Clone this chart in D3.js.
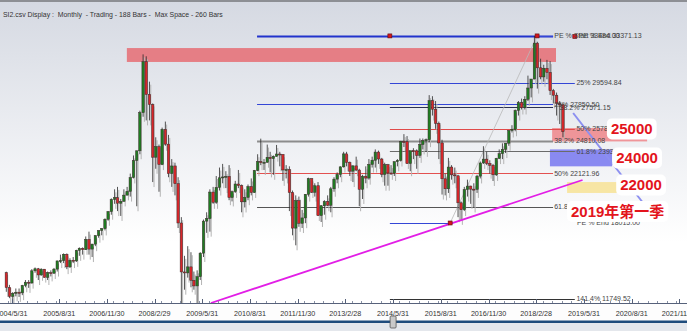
<!DOCTYPE html>
<html>
<head>
<meta charset="utf-8">
<script src="https://cdn.jsdelivr.net/npm/d3@7"></script>
<style>
body { margin: 0; background: #fff; overflow: hidden; }
svg { display: block; font-family: "Liberation Sans", Arial, sans-serif; }
</style>
</head>
<body>
<div id="chart"></div>
<script>
// monthly bars, first bar is 2004/3
const firstMonth = "2004-03";
const opens = [
  13908,12681,11942,12198,12286,12238,12850,13120,13054,14060,
  14230,13721,14196,13516,13908,13867,14201,14880,14903,15429,14386,14937,
  14876,15753,15918,15805,16661,15857,16267,16971,17392,17543,18324,18960,
  19965,20106,19652,19800,20319,20635,21773,23185,23984,27142,31352,28643,
  27813,23456,24332,22849,25755,24533,22102,22731,21261,18016,13969,13888,
  14387,13278,12811,13576,15521,18171,18379,20573,19724,20955,21753,21822,
  21873,20122,20608,21239,21108,19765,20129,21030,20537,22359,23096,23008,
  23035,23447,23338,23528,23720,23684,22398,22440,20535,17592,19864,17989,
  18434,20390,21680,20556,21094,18630,19441,19796,19482,20840,21642,22030,
  22657,23730,23020,22300,22737,22392,20803,21883,21731,22860,23206,23881,
  23306,22035,22837,22151,22134,23082,23191,24757,24742,22933,23998,23987,
  23605,24507,24823,24901,28133,27424,26250,24636,21670,20846,22640,21996,
  21914,19683,19112,20777,21067,20815,20794,21891,22977,23297,22935,22790,
  22001,23361,23741,24112,24615,25661,25765,27324,27970,27554,28246,29177,
  29919,32887,30845,30093,30808,30469,28955,28583,27889,27789
];
const highs = [
  13990,12900,12300,12600,12600,12900,13300,13300,14200,14339,
  14300,14270,14200,14000,14100,14300,14900,15400,15500,15500,15100,15200,
  15800,16000,16000,16900,17300,16300,17000,17400,17600,18400,19000,20050,
  20800,21000,20000,20800,21000,22100,23600,24000,27300,31958,31800,29700,
  27900,25100,24500,25900,26400,25300,23300,23000,21800,18500,15300,16100,
  15600,14000,14100,15600,18300,18900,20800,21000,21900,22600,22900,22300,
  22800,20700,21500,22400,21200,20800,21200,21700,22400,23700,24988,23300,
  24500,23900,23600,24468,23900,23700,22800,22700,20700,20300,20200,19100,
  20400,21760,21700,21300,21400,19500,19900,20300,21000,21800,22200,22700,
  23900,23900,23100,22800,23500,22500,22000,22700,23300,23500,24100,24000,
  23400,23000,22900,22800,23100,23300,24800,25362,25200,23800,24200,24100,
  25000,25000,25000,28588,28500,28100,26400,24900,22100,23400,22800,22600,
  22000,19800,21000,21600,21100,21300,22000,23100,24364,23900,23200,22900,
  23400,24100,24600,24600,25700,26100,27400,28100,28300,28500,30200,29700,
  33484,33000,31600,31100,31500,31400,29100,28800,28100,27900
];
const lows = [
  12325,11800,10918,11950,11900,12050,12700,12650,13000,13900,
  13300,13650,13500,13300,13600,13800,14000,14700,14700,14200,14300,14700,
  14800,15300,15400,15800,15400,15200,16100,16800,17000,17400,18200,18700,
  19600,19000,18600,19800,20300,20200,21700,19400,23700,26800,26500,26500,
  21400,22500,20600,22800,24400,21800,21000,20300,17600,10676,12500,13500,
  12700,12500,11344,13300,15200,17200,17300,19600,19600,20700,21300,20900,
  19900,19800,20500,20900,18900,19300,19900,20300,20500,22300,22800,22400,
  23000,22200,22000,23500,22700,21500,21700,19000,16999,16170,17700,17600,
  18000,20200,20500,20200,18600,18100,18700,19400,18900,20600,21300,21800,
  22600,22700,21900,21400,22300,19400,20000,21300,21600,22600,22600,22900,
  21800,21100,21100,22000,21900,22700,23100,24300,22900,22300,23300,22500,
  23400,24100,23900,24700,26900,25800,23300,20368,20300,20500,21600,21300,
  18500,18278,19000,20200,19600,19300,20500,21700,22900,22800,22100,21488,
  21900,23300,23300,23800,24400,25500,25600,26900,27400,27400,28100,28400,
  29900,29129,29900,29700,29900,28600,27900,26900,26200,25100
];
const closes = [
  12681,11942,12198,12286,12238,12850,13120,13054,14060,14230,
  13721,14196,13516,13908,13867,14201,14880,14903,15429,14386,14937,14876,
  15753,15918,15805,16661,15857,16267,16971,17392,17543,18324,18960,19965,
  20106,19652,19800,20319,20635,21773,23185,23984,27142,31352,28643,27813,
  23456,24332,22849,25755,24533,22102,22731,21261,18016,13969,13888,14387,
  13278,12811,13576,15521,18171,18379,20573,19724,20955,21753,21822,21873,
  20122,20608,21239,21108,19765,20129,21030,20537,22359,23096,23008,23035,
  23447,23338,23528,23720,23684,22398,22440,20535,17592,19864,17989,18434,
  20390,21680,20556,21094,18630,19441,19796,19482,20840,21642,22030,22657,
  23730,23020,22300,22737,22392,20803,21883,21731,22860,23206,23881,23306,
  22035,22837,22151,22134,23082,23191,24757,24742,22933,23998,23987,23605,
  24507,24823,24901,28133,27424,26250,24636,21670,20846,22640,21996,21914,
  19683,19112,20777,21067,20815,20794,21891,22977,23297,22935,22790,22001,
  23361,23741,24112,24615,25661,25765,27324,27970,27554,28246,29177,29919,
  32887,30845,30093,30808,30469,28955,28583,27889,27789,25560
];

const tickLabels = ["2004/5/31","2005/8/31","2006/11/30","2008/2/29","2009/5/31","2010/8/31",
  "2011/11/30","2013/2/28","2014/5/31","2015/8/31","2016/11/30","2018/2/28","2019/5/31",
  "2020/8/31","2021/11/30"];

// fibonacci / extension levels drawn by the trading tool
const levelPrices = [33484.00, 29594.84, 27850.50, 27571.15, 25787.62, 24810.08, 23932.40,
  22121.96, 19338.53, 18015.00, 11749.52];
const levelLabels = ["PE % Start 33484.00", "25% 29594.84", "25% 27850.50", "38.2% 27571.15",
  "50% 25787.62", "38.2% 24810.08", "61.8% 23932.40", "50% 22121.96", "61.8% 19338.53",
  "PE % End 18015.00", "141.4% 11749.52"];
const levelStart = ["2010-11-06","2014-04-30","2010-11-06","2014-04-30","2014-04-30","2010-11-06",
  "2014-04-30","2010-11-06","2010-11-06","2014-04-30","2014-04-30"];
const levelEnd = ["2018-08-09","2019-03-05","2018-08-09","2018-08-09","2019-03-05","2018-08-09",
  "2019-03-05","2018-08-09","2018-08-09","2015-11-28","2019-03-05"];
const levelLabelAt = ["2018-08-20","2019-03-20","2018-08-20","2018-10-10","2019-03-20","2018-08-20",
  "2019-03-20","2018-08-20","2018-08-20","2019-03-25","2019-03-20"];

// trend lines [date, price] pairs
const peTrend = [["2015-11-28", 18015], ["2018-03-09", 33484]];
const supportLine = [["2009-08-21", 11400], ["2019-05-18", 21571]];
const pathLine = [["2019-02-17", 27111], ["2020-12-18", 19669]];
const handleDates = ["2014-04-30", "2018-03-09", "2019-03-05", "2015-11-28"];
const handlePrices = [33484, 33484, 33440, 18015];

// zones [from, to, top price, bottom price]
const topZone = ["2007-06-09", "2018-09-06", 32480, 31330];
const zoneRed = ["2018-07-31", "2021-01-25", 25870, 24760];
const zoneBlue = ["2018-07-10", "2020-02-24", 24100, 22700];
const zoneYellow = ["2018-12-21", "2020-04-18", 21400, 20500];

// callouts
const calloutText = ["25000", "24000", "22000", "2019年第一季"];
const calloutDate = ["2020-08-31", "2020-10-21", "2020-11-28", "2020-04-18"];
const calloutPrice = [25797, 23390, 21157, 18966];

function chart() {
    const W = 687, H = 331;
    const plotTop = 18, axisY = 303;

    const parse = d3.timeParse("%Y-%m-%d");
    const parseTick = d3.timeParse("%Y/%m/%d");
    const start = d3.timeParse("%Y-%m")(firstMonth);
    const bars = closes.map((c, i) => {
        const m = d3.timeMonth.offset(start, i);
        return {date: d3.timeDay.offset(d3.timeMonth.offset(m, 1), -1),
                o: opens[i], h: highs[i], l: lows[i], c: c};
    });

    const svg = d3.select("#chart").append("svg")
        .attr("width", W).attr("height", H);

    const defs = svg.append("defs");
    const grad = defs.append("linearGradient").attr("id", "bg")
        .attr("x1", 0).attr("y1", 0).attr("x2", 0).attr("y2", 1);
    grad.append("stop").attr("offset", "0%").attr("stop-color", "#d5d9e2");
    grad.append("stop").attr("offset", "80%").attr("stop-color", "#ffffff");
    defs.append("clipPath").attr("id", "plot")
        .append("rect").attr("x", 0).attr("y", plotTop).attr("width", W).attr("height", axisY - plotTop);

    // backgrounds
    svg.append("rect").attr("width", W).attr("height", axisY).attr("fill", "url(#bg)");
    svg.append("rect").attr("width", W).attr("height", 2).attr("fill", "#8d8f94");
    svg.append("rect").attr("y", axisY).attr("width", W).attr("height", 18).attr("fill", "#fdfdfd");
    svg.append("rect").attr("y", 323).attr("width", W).attr("height", 8).attr("fill", "#e4e7ec");
    svg.append("rect").attr("y", 320.5).attr("width", W).attr("height", 2.5).attr("fill", "#1f4c7c");

    const x = d3.scaleTime()
        .domain([parseTick("2004/5/31"), parseTick("2019/5/31")])
        .range([11.5, 583.9]);
    const y = d3.scaleLinear().domain([11400, 34800]).range([axisY, 20]);
    const bx = d => x(d) + 1.2;

    // header
    svg.append("text").attr("x", 3).attr("y", 16.5)
        .attr("font-size", 6.9).attr("fill", "#333")
        .attr("xml:space", "preserve")
        .text("SI2.csv Display :  Monthly  - Trading - 188 Bars -  Max Space - 260 Bars");

    const g = svg.append("g").attr("clip-path", "url(#plot)");

    // zones behind the bars
    function zone(z, color, op) {
        g.append("rect")
            .attr("x", x(parse(z[0]))).attr("y", y(z[2]))
            .attr("width", x(parse(z[1])) - x(parse(z[0])))
            .attr("height", y(z[3]) - y(z[2]))
            .attr("fill", color).attr("opacity", op);
    }
    zone(topZone, "#e8585e", 0.72);
    zone(zoneRed, "#ef6f73", 0.7);
    zone(zoneBlue, "#6f6ff0", 0.8);
    zone(zoneYellow, "#f7e39a", 0.9);

    // level lines
    const heavy = [0, 5];
    const levelColor = ["#2233cc", "#3446d6", "#3446d6", "#2c3150", "#e04a4a", "#8c8c8c",
        "#6b6b6b", "#e35050", "#555", "#3446d6", "#333"];
    levelPrices.forEach((p, i) => {
        g.append("line")
            .attr("x1", x(parse(levelStart[i]))).attr("x2", x(parse(levelEnd[i])))
            .attr("y1", Math.round(y(p)) + 0.5).attr("y2", Math.round(y(p)) + 0.5)
            .attr("stroke", levelColor[i])
            .attr("stroke-width", heavy.includes(i) ? 2 : 1);
    });
    // second PE line
    g.append("line")
        .attr("x1", x(parse("2018-03-09"))).attr("x2", x(parse("2018-08-09")))
        .attr("y1", Math.round(y(33484)) + 0.5).attr("y2", Math.round(y(33484)) + 0.5)
        .attr("stroke", "#3446d6").attr("stroke-width", 1);

    // thin swing line between PE handles
    g.append("line")
        .attr("x1", x(parse(peTrend[0][0]))).attr("y1", y(peTrend[0][1]))
        .attr("x2", x(parse(peTrend[1][0]))).attr("y2", y(peTrend[1][1]))
        .attr("stroke", "#b9b9b9").attr("stroke-width", 0.8);

    // candle shadows
    g.selectAll(".shadow")
        .data(bars)
        .join("line")
        .attr("class", "shadow")
        .attr("x1", d => bx(d.date) + 1.3).attr("x2", d => bx(d.date) + 1.3)
        .attr("y1", d => y(d.h) + 3).attr("y2", d => y(d.l) + 5)
        .attr("stroke", "#b4b4b4").attr("stroke-width", 1);

    // wicks
    g.selectAll(".wick")
        .data(bars)
        .join("line")
        .attr("class", "wick")
        .attr("x1", d => bx(d.date)).attr("x2", d => bx(d.date))
        .attr("y1", d => y(d.h)).attr("y2", d => y(d.l))
        .attr("stroke", "#2b2b2b").attr("stroke-width", 0.8);

    // bodies
    g.selectAll(".body")
        .data(bars)
        .join("rect")
        .attr("class", "body")
        .attr("x", d => bx(d.date) - 1.2)
        .attr("y", d => y(Math.max(d.o, d.c)))
        .attr("width", 2.4)
        .attr("height", d => Math.max(1, Math.abs(y(d.o) - y(d.c))))
        .attr("fill", d => d.c >= d.o ? "#1f7d22" : "#d8262a")
        .attr("stroke", "#3a2a2a").attr("stroke-width", 0.5);

    // support trend line
    g.append("line")
        .attr("x1", x(parse(supportLine[0][0]))).attr("y1", y(supportLine[0][1]))
        .attr("x2", x(parse(supportLine[1][0]))).attr("y2", y(supportLine[1][1]))
        .attr("stroke", "#e21ee6").attr("stroke-width", 1.8);

    // projected path
    g.append("line")
        .attr("x1", x(parse(pathLine[0][0]))).attr("y1", y(pathLine[0][1]))
        .attr("x2", x(parse(pathLine[1][0]))).attr("y2", y(pathLine[1][1]))
        .attr("stroke", "#8c8ff0").attr("stroke-width", 2);

    // handles
    g.selectAll(".handle")
        .data(handleDates)
        .join("rect")
        .attr("class", "handle")
        .attr("x", d => x(parse(d)) - 2)
        .attr("y", (d, i) => y(handlePrices[i]) - 2)
        .attr("width", 4).attr("height", 4)
        .attr("fill", "#d4141c").attr("stroke", "#5a1010").attr("stroke-width", 0.6);

    // level labels
    g.selectAll(".lvl")
        .data(levelLabels)
        .join("text")
        .attr("class", "lvl")
        .attr("x", (d, i) => x(parse(levelLabelAt[i])))
        .attr("y", (d, i) => y(levelPrices[i]) + 2.5)
        .attr("font-size", 7)
        .attr("fill", "#444")
        .text(d => d);
    g.append("text")
        .attr("x", x(parse("2019-04-10"))).attr("y", y(33484) + 2.5)
        .attr("font-size", 7).attr("fill", "#444")
        .text("PE % End 33371.13");

    // callouts
    calloutText.forEach((t, i) => {
        const cx = x(parse(calloutDate[i])), cy = y(calloutPrice[i]);
        const lbl = g.append("g");
        const txt = lbl.append("text")
            .attr("x", cx).attr("y", cy + 5.5)
            .attr("text-anchor", "middle")
            .attr("font-size", 15).attr("font-weight", "bold")
            .attr("font-family", "'Liberation Sans', 'Noto Sans CJK SC', sans-serif")
            .attr("fill", "#e3141c")
            .text(t);
        const bb = txt.node().getBBox();
        lbl.insert("rect", "text")
            .attr("x", bb.x - 4).attr("y", bb.y - 2)
            .attr("width", bb.width + 8).attr("height", bb.height + 4)
            .attr("rx", 5)
            .attr("fill", "#fff");
    });

    // x axis
    svg.append("line").attr("x1", 0).attr("x2", W)
        .attr("y1", axisY + 0.5).attr("y2", axisY + 0.5)
        .attr("stroke", "#56617a").attr("stroke-width", 1);
    const tickDates = tickLabels.map(parseTick);
    const minor = d3.timeMonth.every(3).range(d3.timeMonth.offset(tickDates[0], -3), tickDates[tickDates.length - 1])
        .map(d => d3.timeDay.offset(d3.timeMonth.offset(d, 1), -1));
    svg.selectAll(".minor")
        .data(minor)
        .join("line")
        .attr("class", "minor")
        .attr("x1", d => Math.round(x(d)) + 0.5).attr("x2", d => Math.round(x(d)) + 0.5)
        .attr("y1", axisY - 2).attr("y2", axisY)
        .attr("stroke", "#8891a4");
    svg.selectAll(".major")
        .data(tickDates)
        .join("line")
        .attr("class", "major")
        .attr("x1", d => Math.round(x(d)) + 0.5).attr("x2", d => Math.round(x(d)) + 0.5)
        .attr("y1", axisY - 4).attr("y2", axisY)
        .attr("stroke", "#56617a");
    svg.selectAll(".tlab")
        .data(tickLabels)
        .join("text")
        .attr("class", "tlab")
        .attr("x", (d, i) => x(tickDates[i]))
        .attr("y", 316)
        .attr("text-anchor", "middle")
        .attr("font-size", 7.2)
        .attr("fill", "#333")
        .text(d => d);

    // scroll handle
    svg.append("rect")
        .attr("x", x(parseTick("2014/5/31")) - 3).attr("y", 316)
        .attr("width", 6).attr("height", 12).attr("rx", 1)
        .attr("fill", "#c9c9c9").attr("stroke", "#555").attr("stroke-width", 0.8);
}

function main() {
    chart();
}

main();
</script>
</body>
</html>
